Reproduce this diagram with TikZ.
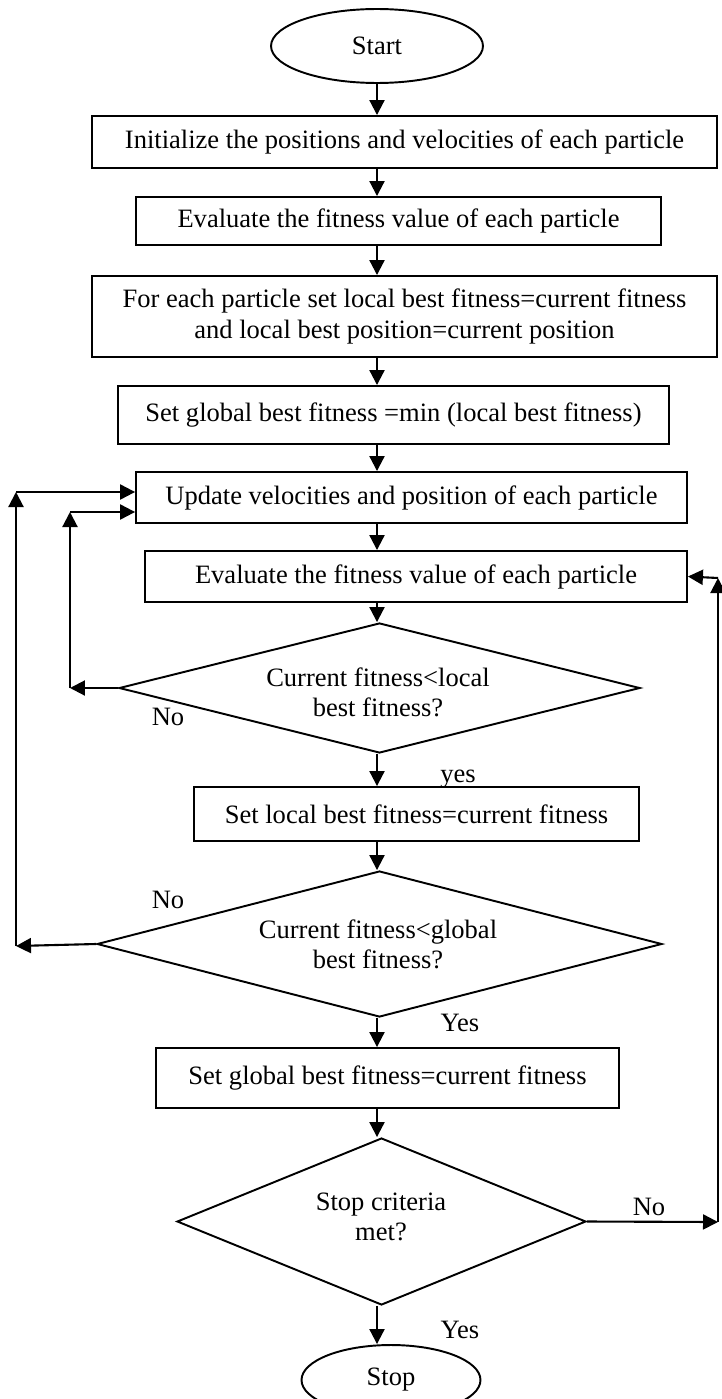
\documentclass[tikz,border=0pt]{standalone}
\usepackage{fontspec}
\setmainfont{Liberation Serif}
\usetikzlibrary{shapes.geometric,arrows.meta}

\tikzset{
  procbox/.style={draw, line width=1.1pt, inner sep=0pt, align=center},
  decision/.style={draw, diamond, line width=1.1pt, inner sep=0pt},
  terminal/.style={draw, ellipse, line width=1.1pt, inner sep=0pt},
  arr/.style={line width=1.2pt, -{Triangle[length=0.3cm,width=0.3cm]}},
  lbl/.style={inner sep=0pt},
}

\begin{document}
\begin{tikzpicture}[x=0.02cm, y=-0.02cm, font=\fontsize{15.1}{17.2}\selectfont]
\useasboundingbox (0,0) rectangle (721,1399);

% main column
\node[terminal, minimum width=4.24cm, minimum height=1.48cm] (start) at (377,46) {Start};
\node[procbox, minimum width=12.5cm, minimum height=1.04cm] (init) at (404.5,142) {Initialize the positions and velocities of each particle};
\node[procbox, minimum width=10.5cm, minimum height=0.96cm] (eval1) at (398.5,221) {Evaluate the fitness value of each particle};
\node[procbox, minimum width=12.5cm, minimum height=1.62cm] (foreach) at (404.5,316.5) {For each particle set local best fitness=current fitness\\and local best position=current position};
\node[procbox, minimum width=11.02cm, minimum height=1.16cm] (gbestmin) at (393.5,415) {Set global best fitness =min (local best fitness)};
\node[procbox, minimum width=11.02cm, minimum height=1.02cm] (update) at (411.5,497.5) {Update velocities and position of each particle};
\node[procbox, minimum width=10.84cm, minimum height=1.02cm] (eval2) at (416,576.5) {Evaluate the fitness value of each particle};

\node[decision, minimum width=10.42cm, minimum height=2.6cm] (dia1) at (379.5,688) {};
\node[align=center] (dia1txt) at (378,692) {Current fitness<local\\best fitness?};

\node[procbox, minimum width=8.9cm, minimum height=1.08cm] (setlocal) at (416.5,814) {Set local best fitness=current fitness};

\node[decision, minimum width=11.3cm, minimum height=2.92cm] (dia2) at (379.5,944) {};
\node[align=center] (dia2txt) at (378,944) {Current fitness<global\\best fitness?};

\node[procbox, minimum width=9.26cm, minimum height=1.2cm] (setgbest) at (387.5,1078) {Set global best fitness=current fitness};

\node[decision, minimum width=8.18cm, minimum height=3.34cm] (dia3) at (381.5,1221.5) {};
\node[align=center] (dia3txt) at (381,1217) {Stop criteria\\met?};

\node[terminal, minimum width=3.58cm, minimum height=1.4cm] (stop) at (391,1380) {Stop};

% straight arrows
\draw[arr] (start.south) -- (init.north -| start);
\draw[arr] (init.south -| start) -- (eval1.north -| start);
\draw[arr] (eval1.south -| start) -- (foreach.north -| start);
\draw[arr] (foreach.south -| start) -- (gbestmin.north -| start);
\draw[arr] (gbestmin.south -| start) -- (update.north -| start);
\draw[arr] (update.south -| start) -- (eval2.north -| start);
\draw[arr] (eval2.south -| start) -- (dia1.north -| start);
\draw[arr] (dia1.south -| start) -- (setlocal.north -| start);
\draw[arr] (setlocal.south -| start) -- (dia2.north -| start);
\draw[arr] (dia2.south -| start) -- (setgbest.north -| start);
\draw[arr] (setgbest.south -| start) -- (dia3.north -| start);
\draw[arr] (dia3.south -| start) -- (stop.north -| start);

% loop back points
\coordinate (innerlow) at (70,688);
\coordinate (innertop) at (70,512);
\coordinate (outerlow) at (16,946);
\coordinate (outertop) at (16,492);
\coordinate (rightlow) at (718,1222);
\coordinate (righttop) at (718,578);

\draw[arr] (dia1.west) -- (innerlow);
\draw[arr] (innerlow) -- (innertop);
\draw[arr] (innertop) -- (innertop -| update.west);

\draw[arr] (dia2.west) -- (outerlow);
\draw[arr] (outerlow) -- (outertop);
\draw[arr] (outertop) -- (outertop -| update.west);

\draw[arr] (dia3.east) -- (rightlow);
\draw[arr] (rightlow) -- (righttop);
\draw[arr] (righttop) -- (eval2.east);

% labels
\node[lbl] (no1) at (168,717) {No};
\node[lbl] (no2) at (168,900) {No};
\node[lbl] (no3) at (649,1207) {No};
\node[lbl] (yes1) at (458,779) {yes};
\node[lbl] (yes2) at (460,1023) {Yes};
\node[lbl] (yes3) at (460,1330) {Yes};
\end{tikzpicture}
\end{document}
